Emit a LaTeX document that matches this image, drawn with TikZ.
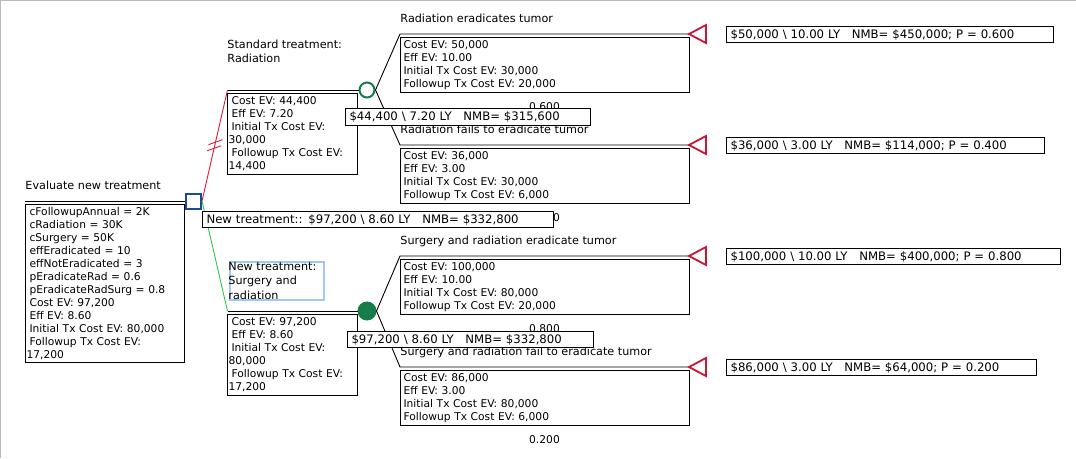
\documentclass[tikz,border=0pt]{standalone}
\usepackage{fontspec}
\setmainfont{DejaVu Sans}
\usetikzlibrary{calc}
\definecolor{tred}{RGB}{205,20,50}
\definecolor{lred}{RGB}{215,30,55}
\definecolor{lgreen}{RGB}{45,200,70}
\definecolor{cgreen}{RGB}{22,125,72}
\definecolor{dblue}{RGB}{28,72,160}
\definecolor{selblue}{RGB}{160,200,245}
\begin{document}
\begin{tikzpicture}[x=1pt,y=-1pt,line width=0.9pt,
  lbl/.style={font=\fontsize{11.2}{14.5}\selectfont,inner sep=0pt,align=left,anchor=north west},
  prob/.style={font=\fontsize{10.7}{13}\selectfont,inner sep=0pt,anchor=base},
  infobox/.style={draw,line width=1.1pt,anchor=north west,align=left,inner xsep=4pt,inner ysep=1pt,font=\fontsize{10.7}{13}\selectfont},
  valbox/.style={draw,line width=1.1pt,fill=white,anchor=north west,align=left,inner xsep=4pt,inner ysep=0pt,minimum height=16pt,font=\fontsize{11.7}{13}\selectfont},
  decnode/.style={draw=dblue,line width=2pt,minimum size=15pt,inner sep=0pt},
  chnode/.style={circle,draw=cgreen,line width=2pt,minimum size=15pt,inner sep=0pt},
  term/.style={draw=tred,line width=1.8pt,line join=miter}]
\useasboundingbox (0,0) rectangle (1076,458);
\draw[gray!55,line width=2.4pt] (0,458) -- (0,0) -- (1076,0);

% decision and chance nodes
\node[decnode] (d) at (193.5,201) {};
\node[chnode] (c1) at (367,90) {};
\node[chnode,fill=cgreen,minimum size=17pt] (c2) at (367,311) {};
\coordinate (r0) at (25,201);
\coordinate (s1) at (227.5,90);
\coordinate (s2) at (227.5,311);
\coordinate (a1) at (400,34);
\coordinate (b1) at (400,145);
\coordinate (a2) at (400,256);
\coordinate (b2) at (400,367);
\coordinate (ta1) at (689,34);
\coordinate (tb1) at (689,145);
\coordinate (ta2) at (689,256);
\coordinate (tb2) at (689,367);

\draw (r0) -- (d.west);
\draw[lred] (d.east) -- (s1);
\draw[lred] ($(d.east)!0.475!(s1)$) ++(-7,2.5) -- ++(14,-5);
\draw[lred] ($(d.east)!0.53!(s1)$) ++(-7,2.5) -- ++(14,-5);
\draw[lgreen] (d.east) -- (s2);
\draw (s1) -- (c1.west);
\draw (s2) -- (c2.west);
\draw (c1.east) -- (a1) -- (ta1);
\draw (c1.east) -- (b1) -- (tb1);
\draw (c2.east) -- (a2) -- (ta2);
\draw (c2.east) -- (b2) -- (tb2);
\foreach \t in {ta1,tb1,ta2,tb2}
  \draw[term] (\t) -- ++(17,-9) -- ++(0,18) -- cycle;

% labels
\node[lbl,anchor=base west] (lroot) at (25,189) {Evaluate new treatment};
\node[lbl] (lstd) at (227,39.5) {Standard treatment:\\Radiation};
\node[draw=selblue,line width=2pt,minimum width=94pt,minimum height=38pt,anchor=north west] (sel) at (229,261) {};
\node[lbl] (lnew) at (228,261.5) {New treatment:\\Surgery and\\radiation};
\node[lbl,anchor=base west] (la1) at (400,22) {Radiation eradicates tumor};
\node[lbl,anchor=base west] (lb1) at (400,133) {Radiation fails to eradicate tumor};
\node[lbl,anchor=base west] (la2) at (400,244) {Surgery and radiation eradicate tumor};
\node[lbl,anchor=base west] (lb2) at (400,355) {Surgery and radiation fail to eradicate tumor};
\node[prob] (pa1) at (544.5,110) {0.600};
\node[prob] (pb1) at (544.5,221) {0.400};
\node[prob] (pa2) at (544.5,332) {0.800};
\node[prob] (pb2) at (544.5,443) {0.200};

% info boxes
\node[infobox,text width=151pt,minimum height=158pt] (iroot) at (25,204) {cFollowupAnnual = 2K\\cRadiation = 30K\\cSurgery = 50K\\effEradicated = 10\\effNotEradicated = 3\\pEradicateRad = 0.6\\pEradicateRadSurg = 0.8\\Cost EV: 97,200\\Eff EV: 8.60\\Initial Tx Cost EV: 80,000\\Followup Tx Cost EV:\\\hspace*{-3pt}17,200};
\node[infobox,text width=122pt,minimum height=81pt] (istd) at (227,93) {Cost EV: 44,400\\Eff EV: 7.20\\Initial Tx Cost EV:\\\hspace*{-3pt}30,000\\Followup Tx Cost EV:\\\hspace*{-3pt}14,400};
\node[infobox,text width=122pt,minimum height=81pt] (inew) at (227,314) {Cost EV: 97,200\\Eff EV: 8.60\\Initial Tx Cost EV:\\\hspace*{-3pt}80,000\\Followup Tx Cost EV:\\\hspace*{-3pt}17,200};
\node[infobox,inner xsep=3pt,text width=283pt,minimum height=55pt] (ia1) at (400,37) {Cost EV: 50,000\\Eff EV: 10.00\\Initial Tx Cost EV: 30,000\\Followup Tx Cost EV: 20,000};
\node[infobox,inner xsep=3pt,text width=283pt,minimum height=55pt] (ib1) at (400,148) {Cost EV: 36,000\\Eff EV: 3.00\\Initial Tx Cost EV: 30,000\\Followup Tx Cost EV: 6,000};
\node[infobox,inner xsep=3pt,text width=283pt,minimum height=55pt] (ia2) at (400,259) {Cost EV: 100,000\\Eff EV: 10.00\\Initial Tx Cost EV: 80,000\\Followup Tx Cost EV: 20,000};
\node[infobox,inner xsep=3pt,text width=283pt,minimum height=55pt] (ib2) at (400,370) {Cost EV: 86,000\\Eff EV: 3.00\\Initial Tx Cost EV: 80,000\\Followup Tx Cost EV: 6,000};

% value boxes
\node[valbox,text width=343pt] (vroot) at (202,211) {New treatment:: \$97,200 \textbackslash{} 8.60 LY\ \ \ NMB= \$332,800};
\node[valbox,text width=237pt,minimum height=17pt] (vc1) at (345,108) {\$44,400 \textbackslash{} 7.20 LY\ \ \ NMB= \$315,600};
\node[valbox,text width=238pt] (vc2) at (347,331) {\$97,200 \textbackslash{} 8.60 LY\ \ \ NMB= \$332,800};
\node[valbox,text width=319pt] (va1) at (726,26) {\$50,000 \textbackslash{} 10.00 LY\ \ \ NMB= \$450,000; P = 0.600};
\node[valbox,text width=310pt] (vb1) at (726,137) {\$36,000 \textbackslash{} 3.00 LY\ \ \ NMB= \$114,000; P = 0.400};
\node[valbox,text width=326pt] (va2) at (726,248) {\$100,000 \textbackslash{} 10.00 LY\ \ \ NMB= \$400,000; P = 0.800};
\node[valbox,text width=302pt] (vb2) at (726,359) {\$86,000 \textbackslash{} 3.00 LY\ \ \ NMB= \$64,000; P = 0.200};
\end{tikzpicture}
\end{document}
